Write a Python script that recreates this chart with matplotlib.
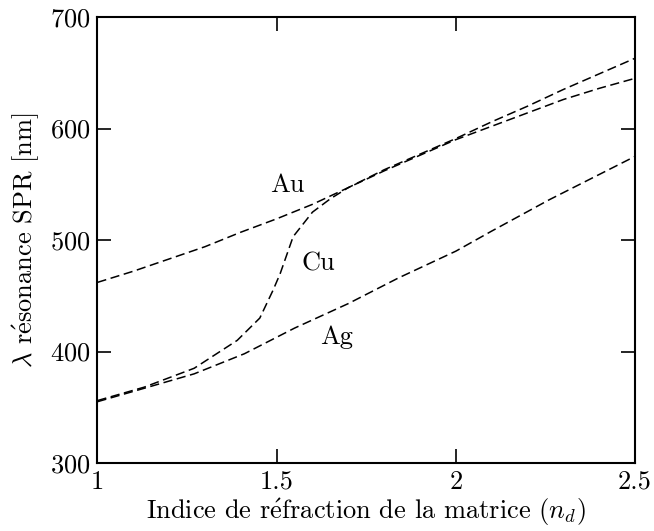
import matplotlib
matplotlib.use("Agg")
import matplotlib.pyplot as plt

plt.rcParams['font.family'] = ['cmr10', 'DejaVu Serif']
plt.rcParams['mathtext.fontset'] = 'cm'
plt.rcParams['axes.formatter.use_mathtext'] = True

# indice de refraction / position de la resonance (nm)
au_n = [1.0, 1.1, 1.2, 1.3, 1.4, 1.5, 1.6, 1.7, 1.8, 1.9, 2.0, 2.1, 2.2, 2.3, 2.4, 2.5]
au_l = [462, 472, 483, 494, 507, 519, 532, 547, 562, 576, 590, 602, 614, 626, 636, 645]

cu_n = [1.0, 1.13, 1.27, 1.39, 1.453, 1.49, 1.51, 1.546, 1.6, 1.65, 1.7, 1.8, 1.9, 2.0, 2.1, 2.2, 2.3, 2.4, 2.5]
cu_l = [356, 368, 385, 410, 430, 455, 470, 503, 525, 537, 547, 563, 577, 591, 606, 620, 635, 649, 663]

ag_n = [1.0, 1.13, 1.27, 1.41, 1.55, 1.7, 1.84, 2.0, 2.1, 2.26, 2.5]
ag_l = [355, 367, 380, 398, 421, 443, 466, 490, 508, 536, 575]

fs = 19

fig = plt.figure(figsize=(6.54, 5.31), dpi=100)
ax = fig.add_axes([0.149, 0.128, 0.822, 0.84])

for n, l in [(au_n, au_l), (cu_n, cu_l), (ag_n, ag_l)]:
    ax.plot(n, l, color='black', lw=1.1, dashes=(6, 3))

ax.text(1.53, 549, 'Au', fontsize=fs, ha='center', va='center')
ax.text(1.615, 479, 'Cu', fontsize=fs, ha='center', va='center')
ax.text(1.668, 413, 'Ag', fontsize=fs, ha='center', va='center')

ax.set_xlim(1, 2.5)
ax.set_ylim(300, 700)
ax.set_xticks([1, 1.5, 2, 2.5])
ax.set_xticklabels(['1', '1.5', '2', '2.5'])
ax.set_yticks([300, 400, 500, 600, 700])
ax.tick_params(direction='in', top=True, right=True, length=10, width=1.2,
               labelsize=fs, pad=5)
for s in ax.spines.values():
    s.set_linewidth(1.5)

ax.set_xlabel(r'Indice de r$\acute{\mathrm{e}}$fraction de la matrice ($n_d$)', fontsize=fs, labelpad=2)
ax.set_ylabel(r'$\lambda$ r$\acute{\mathrm{e}}$sonance SPR [nm]', fontsize=fs, labelpad=6)

fig.savefig('out.png', dpi=100)
